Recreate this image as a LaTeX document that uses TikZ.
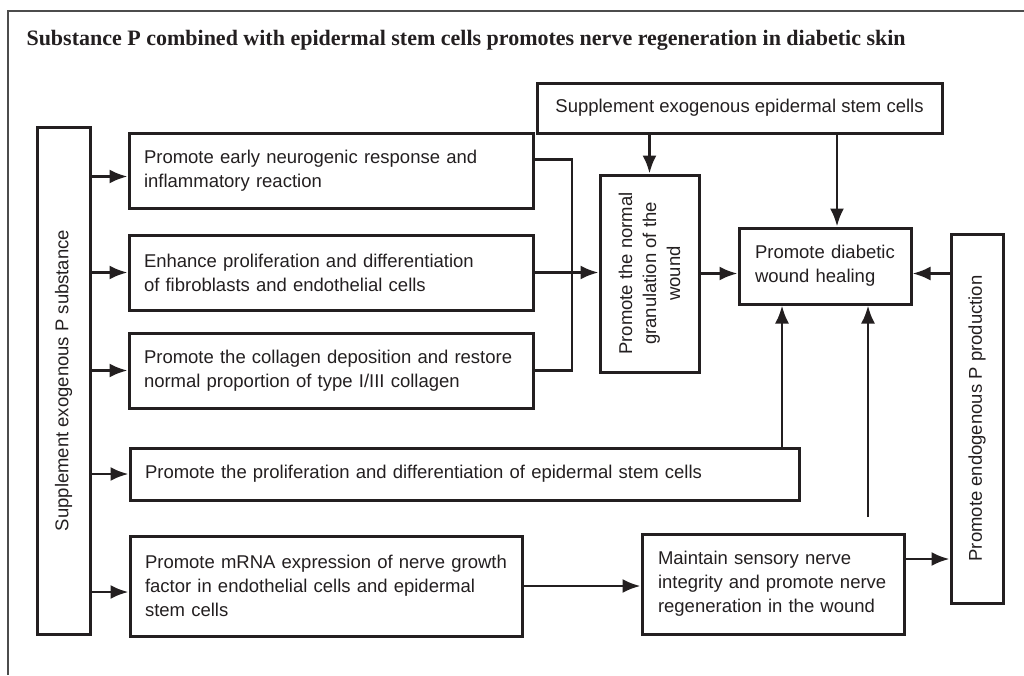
\documentclass[tikz,border=0pt]{standalone}
\usepackage{fontspec}
\setmainfont{Liberation Sans}
\newfontfamily\headfont{Liberation Serif}
\usetikzlibrary{arrows.meta}
\definecolor{ink}{HTML}{231F20}
\tikzset{
  >={Latex[length=18pt,width=14pt]},
  box/.style={draw=ink, line width=3pt, text=ink, inner ysep=0pt,
    font=\fontsize{18.5}{24}\selectfont},
  lbox/.style={box, align=left, inner xsep=15pt},
  vbox/.style={box, rotate=90, align=center},
  link/.style={draw=ink, line width=2.8pt},
}

\begin{document}
\begin{tikzpicture}[x=1pt,y=-1pt]
  \useasboundingbox (0,0) rectangle (1024,675);
  \draw[black!70, line width=1.4pt] (1024,11) -- (8,11) -- (8,675);
  \node[anchor=base west, text=ink, font=\headfont\bfseries\fontsize{22}{26}\selectfont]
    (title) at (23,45) {Substance P combined with epidermal stem cells promotes nerve regeneration in diabetic skin};

  \node[vbox, minimum width=507pt, minimum height=53pt] (src) at (63.5,380.5)
    {Supplement exogenous P substance};
  \node[lbox, text width=374pt, minimum height=75pt] (b1) at (331,170.5)
    {Promote early neurogenic response and\\inflammatory reaction};
  \node[lbox, text width=374pt, minimum height=75pt] (b2) at (331,272.5)
    {Enhance proliferation and differentiation\\of fibroblasts and endothelial cells};
  \node[lbox, text width=374pt, minimum height=75pt] (b3) at (331,370.5)
    {Promote the collagen deposition and restore\\normal proportion of type I/III collagen};
  \node[lbox, text width=639pt, minimum height=52pt] (b4) at (464.5,474)
    {Promote the proliferation and differentiation of epidermal stem cells};
  \node[lbox, text width=362pt, minimum height=100pt] (b5) at (326,586)
    {Promote mRNA expression of nerve growth\\factor in endothelial cells and epidermal\\stem cells};
  \node[lbox, inner xsep=16pt, text width=230pt, minimum height=100pt] (b6) at (773,584)
    {Maintain sensory nerve\\integrity and promote nerve\\regeneration in the wound};
  \node[box, align=center, minimum width=405pt, minimum height=50pt] (sup) at (739.5,108)
    {Supplement exogenous epidermal stem cells};
  \node[vbox, minimum width=197pt, minimum height=99pt] (gran) at (649.5,273.5)
    {Promote the normal\\granulation of the\\wound};
  \node[lbox, inner xsep=16pt, text width=140pt, minimum height=76pt] (heal) at (825,266)
    {Promote diabetic\\wound healing};
  \node[vbox, minimum width=369pt, minimum height=52pt] (endo) at (977,418.5)
    {Promote endogenous P production};

  \foreach \b/\d in {b1/-6pt,b2/0pt,b3/0pt,b4/0pt,b5/-6pt}
    \draw[link,->] ([yshift=\d]src.south |- \b.west) -- ([yshift=\d]\b.west);

  \coordinate (brk) at (572,272);
  \draw[link] ([yshift=11pt]b1.east) -| (brk) |- (b3.east);
  \draw[link,->] (b2.east) -- (b2.east -| gran.north);
  \draw[link,->] (sup.south -| gran.east) -- (gran.east);
  \coordinate (hn) at ([xshift=12pt]heal.north);
  \draw[link,->] (sup.south -| hn) -- (hn);
  \draw[link,->] (gran.south) -- (gran.south -| heal.west);
  \draw[link,->] (endo.north |- gran.south) -- (heal.east |- gran.south);
  \coordinate (hs1) at ([xshift=-43pt]heal.south);
  \draw[link,->] (b4.north -| hs1) -- (hs1);
  \coordinate (nv) at (868,517);
  \draw[link,->] (nv) -- (nv |- heal.south);
  \draw[link,->] (b5.east) -- (b5.east -| b6.west);
  \draw[link,->] ([yshift=25pt]b6.east) -- ([yshift=25pt]b6.east -| endo.north);
\end{tikzpicture}
\end{document}
